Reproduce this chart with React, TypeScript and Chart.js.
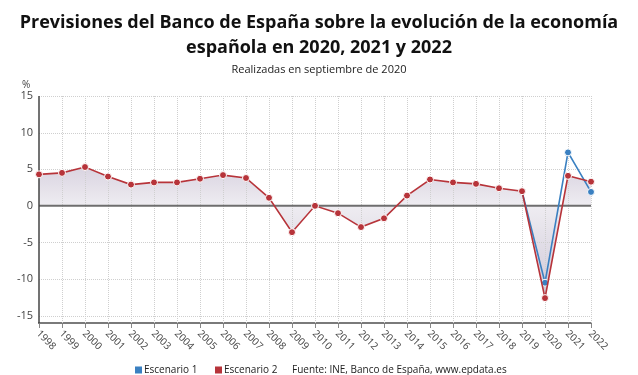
import React, { useEffect, useRef } from 'react';
import { Chart, registerables } from 'chart.js';

Chart.register(...registerables);

const years = ['1998', '1999', '2000', '2001', '2002', '2003', '2004', '2005', '2006', '2007', '2008', '2009', '2010', '2011', '2012', '2013', '2014', '2015', '2016', '2017', '2018', '2019', '2020', '2021', '2022'];
const escenario1 = [null, null, null, null, null, null, null, null, null, null, null, null, null, null, null, null, null, null, null, null, null, 2.0, -10.5, 7.3, 1.9];
const escenario2 = [4.3, 4.5, 5.3, 4.0, 2.9, 3.2, 3.2, 3.7, 4.2, 3.8, 1.1, -3.6, 0.0, -1.0, -2.9, -1.7, 1.4, 3.6, 3.2, 3.0, 2.4, 2.0, -12.6, 4.1, 3.3];
const yTicks = [15, 10, 5, 0, -5, -10, -15];
const titleLines = ['Previsiones del Banco de España sobre la evolución de la economía', 'española en 2020, 2021 y 2022'];
const subtitle = 'Realizadas en septiembre de 2020';
const seriesNames = ['Escenario 1', 'Escenario 2'];
const sourceText = 'Fuente: INE, Banco de España, www.epdata.es';
const unitLabel = '%';

const BLUE = '#3a80c1';
const RED = '#b7343a';
const FONT = '"Open Sans", "Noto Sans", sans-serif';

export default function App() {
  const ref = useRef<HTMLCanvasElement>(null);

  useEffect(() => {
    const canvas = ref.current;
    if (!canvas) return;

    const decor = {
      id: 'decor',
      beforeDatasetsDraw(chart: any) {
        const ctx = chart.ctx;
        const x = chart.scales.x;
        const y = chart.scales.y;
        const a = chart.chartArea;
        ctx.save();
        ctx.strokeStyle = '#cfcfcf';
        ctx.lineWidth = 1;
        ctx.setLineDash([1, 1]);
        yTicks.forEach((v) => {
          if (v === 0) return;
          const py = Math.round(y.getPixelForValue(v)) + 0.5;
          ctx.beginPath();
          ctx.moveTo(a.left, py);
          ctx.lineTo(a.right, py);
          ctx.stroke();
        });
        years.forEach((_, i) => {
          if (i === 0) return;
          const px = Math.round(x.getPixelForValue(i)) + 0.5;
          ctx.beginPath();
          ctx.moveTo(px, a.top);
          ctx.lineTo(px, a.bottom);
          ctx.stroke();
        });
        ctx.setLineDash([]);
        // zero line
        const zy = y.getPixelForValue(0);
        ctx.strokeStyle = '#6e6e6e';
        ctx.lineWidth = 2;
        ctx.beginPath();
        ctx.moveTo(a.left, zy);
        ctx.lineTo(a.right, zy);
        ctx.stroke();
        // left axis
        ctx.strokeStyle = '#444';
        ctx.lineWidth = 1.5;
        ctx.beginPath();
        ctx.moveTo(a.left, a.top);
        ctx.lineTo(a.left, a.bottom);
        ctx.stroke();
        ctx.restore();
      },
      afterDraw(chart: any) {
        const ctx = chart.ctx;
        const x = chart.scales.x;
        const a = chart.chartArea;
        const W = chart.width;
        ctx.save();
        // titles
        ctx.fillStyle = '#111';
        ctx.textAlign = 'center';
        ctx.textBaseline = 'middle';
        ctx.font = `bold 18px ${FONT}`;
        ctx.fillText(titleLines[0], W / 2, 23);
        ctx.fillText(titleLines[1], W / 2, 48);
        ctx.font = `11px ${FONT}`;
        ctx.fillStyle = '#222';
        ctx.fillText(subtitle, W / 2, 70);
        // unit
        ctx.fillStyle = '#444';
        ctx.font = `10px ${FONT}`;
        ctx.textAlign = 'left';
        ctx.fillText(unitLabel, 22, 85);
        // x labels rotated clockwise
        ctx.font = `10px ${FONT}`;
        ctx.fillStyle = '#444';
        years.forEach((lab, i) => {
          const px = x.getPixelForValue(i);
          ctx.save();
          ctx.translate(px - 1, a.bottom + 9);
          ctx.rotate(Math.PI / 4);
          ctx.textAlign = 'left';
          ctx.textBaseline = 'middle';
          ctx.fillText(lab, 0, 0);
          ctx.restore();
        });
        // legend
        ctx.font = `10px ${FONT}`;
        ctx.textBaseline = 'middle';
        ctx.textAlign = 'left';
        const ly = 370;
        const colors = [BLUE, RED];
        const starts = [135, 215];
        seriesNames.forEach((n, i) => {
          ctx.fillStyle = colors[i];
          ctx.fillRect(starts[i], ly - 3.5, 7, 7);
          ctx.fillStyle = '#222';
          ctx.fillText(n, starts[i] + 9, ly);
        });
        ctx.fillText(sourceText, 292, ly);
        ctx.restore();
      },
    };

    const fillGrad = (c: any) => {
      const chart = c.chart;
      const y = chart.scales.y;
      if (!chart.chartArea || !y) return 'rgba(200,192,210,0.45)';
      const g = chart.ctx.createLinearGradient(0, y.getPixelForValue(6), 0, y.getPixelForValue(-13));
      const z = (y.getPixelForValue(0) - y.getPixelForValue(6)) / (y.getPixelForValue(-13) - y.getPixelForValue(6));
      g.addColorStop(0, 'rgba(214,208,222,1)');
      g.addColorStop(Math.max(0, z - 0.01), 'rgba(238,236,241,1)');
      g.addColorStop(Math.min(1, z + 0.01), 'rgba(238,236,241,1)');
      g.addColorStop(1, 'rgba(205,198,214,1)');
      return g;
    };

    const chart = new Chart(canvas, {
      type: 'line',
      data: {
        labels: years,
        datasets: [
          {
            label: seriesNames[1],
            data: escenario2,
            borderColor: RED,
            backgroundColor: RED,
            borderWidth: 1.6,
            pointRadius: 3.5,
            pointBackgroundColor: RED,
            pointBorderColor: '#ffffff',
            pointBorderWidth: 1,
            fill: { target: 'origin', above: fillGrad as any, below: fillGrad as any } as any,
            tension: 0,
            order: 1,
          },
          {
            label: seriesNames[0],
            data: escenario1,
            borderColor: BLUE,
            backgroundColor: BLUE,
            borderWidth: 1.6,
            pointRadius: 3.5,
            pointBackgroundColor: BLUE,
            pointBorderColor: '#ffffff',
            pointBorderWidth: 1,
            fill: false,
            tension: 0,
            spanGaps: false,
            order: 2,
          },
        ],
      },
      options: {
        animation: false,
        responsive: false,
        maintainAspectRatio: false,
        layout: { padding: { left: 0, right: 47, top: 96, bottom: 46 } },
        plugins: {
          legend: { display: false },
          title: { display: false },
          tooltip: { enabled: false },
          filler: { drawTime: 'beforeDatasetsDraw' } as any,
        },
        scales: {
          x: {
            type: 'category',
            offset: false,
            grid: { drawOnChartArea: false, drawTicks: true, tickLength: 5, tickColor: '#888', tickWidth: 1 },
            border: { display: true, color: '#7a7a7a', width: 2 },
            ticks: { display: false },
            afterFit: (s: any) => { s.height = 6; },
          },
          y: {
            min: -16,
            max: 15,
            grid: { display: false, drawTicks: false },
            border: { display: false },
            ticks: { color: '#444', font: { family: FONT, size: 11 }, padding: 6 },
            afterBuildTicks: (s: any) => { s.ticks = yTicks.map((v) => ({ value: v })); },
            afterFit: (s: any) => { s.width = 39; },
          },
        },
      },
      plugins: [decor],
    });

    return () => chart.destroy();
  }, []);

  return (
    <div style={{ position: 'absolute', left: 0, top: 0, width: 638, height: 375, background: '#fff' }}>
      <canvas ref={ref} width={638} height={375} style={{ display: 'block', width: 638, height: 375 }} />
    </div>
  );
}
